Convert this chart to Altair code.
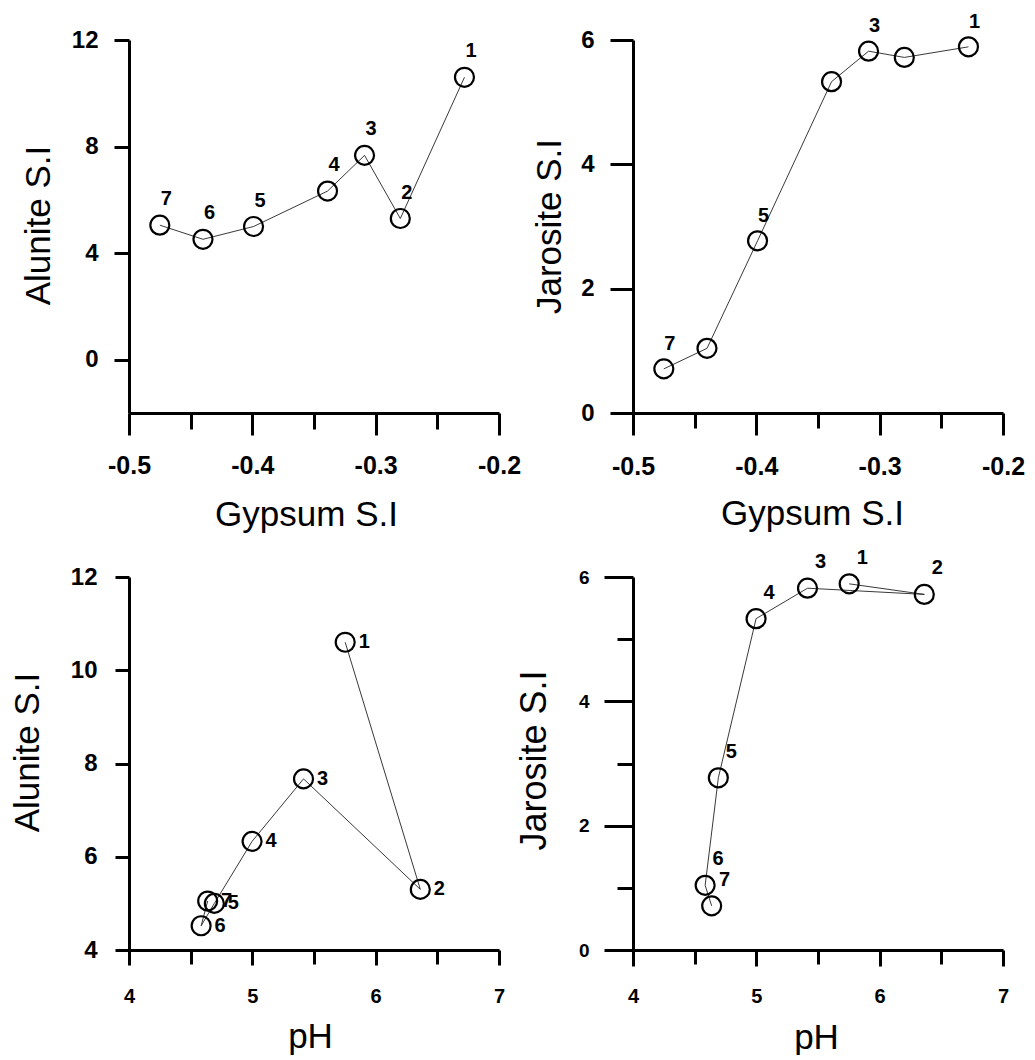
import altair as alt
import pandas as pd

# ---- data ----
samples = [1, 2, 3, 4, 5, 6, 7]
sample_labels = ["1", "2", "3", "4", "5", "6", "7"]
gypsum_si = [-0.228, -0.280, -0.309, -0.339, -0.399, -0.440, -0.475]
ph = [5.753, 6.362, 5.415, 4.998, 4.692, 4.585, 4.638]
alunite_si = [10.60, 5.30, 7.67, 6.33, 5.00, 4.52, 5.05]
jarosite_si = [5.89, 5.72, 5.82, 5.33, 2.77, 1.04, 0.71]
labels_jaro_gyp = ["1", "", "3", "", "5", "", "7"]

gyp_major = [-0.5, -0.4, -0.3, -0.2]
gyp_minor = [-0.45, -0.35, -0.25]
ph_major = [4, 5, 6, 7]
ph_minor = [4.5, 5.5, 6.5]
alu_gyp_y = [0, 4, 8, 12]
jar_gyp_y = [0, 2, 4, 6]
alu_ph_y = [4, 6, 8, 10, 12]
jar_ph_y_major = [0, 2, 4, 6]
jar_ph_y_minor = [1, 3, 5]

df = pd.DataFrame({
    "sample": samples,
    "lab": sample_labels,
    "lab2": labels_jaro_gyp,
    "gypsum": gypsum_si,
    "ph": ph,
    "alunite": alunite_si,
    "jarosite": jarosite_si,
})

FONT = "Liberation Sans"
W, H = 370, 373
GYP_LABEL = "(datum.value < 0 ? '-' : '') + format(abs(datum.value), '.1f')"


def minor_axis(orient, vals, size):
    return alt.Axis(orient=orient, values=vals, tickSize=size, tickWidth=3,
                    tickColor="black", labels=False, domain=False, grid=False,
                    title=None)


def major_axis(orient, vals, size, title, labsize, labpad, tx, ty, tsize, labexpr):
    kw = dict(
        orient=orient, values=vals, title=title, grid=False,
        domainColor="black", domainWidth=3,
        tickColor="black", tickWidth=3, tickSize=size,
        labelExpr=labexpr, labelFont=FONT, labelFontSize=labsize,
        labelFontWeight="bold", labelColor="black", labelPadding=labpad,
        labelFlush=False, labelOverlap=False,
        titleFont=FONT, titleFontSize=tsize, titleFontWeight="normal",
        titleColor="black", titleX=tx, titleY=ty, titleBaseline="alphabetic",
    )
    return alt.Axis(**kw)


def panel(xf, yf, labf, xdom, xmaj, xmin, xsz, xminsz, xtitle, xlabsize, xlabpad,
          xtx, xty, xlabexpr, ydom, ymaj, ymin, ysz, yminsz, ytitle, ylabsize,
          ylabpad, ytx, yty, ytsize, tdx, tdy):
    xs = alt.Scale(domain=xdom, nice=False, zero=False)
    ys = alt.Scale(domain=ydom, nice=False, zero=False)
    base = alt.Chart(df)
    x_min_ax = minor_axis("bottom", xmin, xminsz)
    y_min_ax = minor_axis("left", ymin, yminsz) if ymin else None
    line = base.mark_line(color="#222222", strokeWidth=0.9).encode(
        x=alt.X(f"{xf}:Q", scale=xs, axis=x_min_ax),
        y=alt.Y(f"{yf}:Q", scale=ys, axis=y_min_ax),
        order=alt.Order("sample:Q"))
    pts = base.mark_point(shape="circle", filled=False, size=360, strokeWidth=2.2,
                          color="black", opacity=1).encode(
        x=alt.X(f"{xf}:Q", scale=xs,
                axis=major_axis("bottom", xmaj, xsz, xtitle, xlabsize, xlabpad,
                                xtx, xty, 35, xlabexpr)),
        y=alt.Y(f"{yf}:Q", scale=ys,
                axis=major_axis("left", ymaj, ysz, ytitle, ylabsize, ylabpad,
                                ytx, yty, ytsize, "datum.label")))
    txt = base.mark_text(font=FONT, fontSize=20, fontWeight="bold", color="black",
                         align="center", baseline="middle", dx=tdx, dy=tdy).encode(
        x=alt.X(f"{xf}:Q", scale=xs, axis=None),
        y=alt.Y(f"{yf}:Q", scale=ys, axis=None),
        text=f"{labf}:N")
    return alt.layer(line, pts, txt).resolve_axis(
        x="independent", y="independent").properties(width=W, height=H)


p1 = panel("gypsum", "alunite", "lab", [-0.5, -0.2], gyp_major, gyp_minor, 22, 16,
           "Gypsum S.I", 25, 18, 177, 112, GYP_LABEL,
           [-2, 12], alu_gyp_y, [], 15, 15, "Alunite S.I", 24, 16,
           -80, 185, 35, 6.5, -26)
p2 = panel("gypsum", "jarosite", "lab2", [-0.5, -0.2], gyp_major, gyp_minor, 22, 15,
           "Gypsum S.I", 25, 19, 179, 111, GYP_LABEL,
           [0, 6], jar_gyp_y, [], 23, 23, "Jarosite S.I", 24, 16,
           -73, 186, 35, 6, -25)
p3 = panel("ph", "alunite", "lab", [4, 7], ph_major, ph_minor, 15, 14,
           "pH", 20, 21, 181, 97, "datum.label",
           [4, 12], alu_ph_y, [], 14, 14, "Alunite S.I", 24, 18,
           -91, 175, 35, 19, 0)
p4 = panel("ph", "jarosite", "lab", [4, 7], ph_major, ph_minor, 16, 14,
           "pH", 20, 20, 183, 98, "datum.label",
           [0, 6], jar_ph_y_major, jar_ph_y_minor, 29, 16, "Jarosite S.I", 19, 15,
           -88, 183, 36, 13, -26)

chart = alt.concat(p1, p2, p3, p4, columns=2, spacing={"row": 164, "column": 134},
                   bounds="flush").configure_view(stroke=None).properties(
    padding={"left": 2, "top": 3, "right": 0, "bottom": 0},
    background="white")

chart.save("out.html", embed_options={"renderer": "svg", "actions": False})
